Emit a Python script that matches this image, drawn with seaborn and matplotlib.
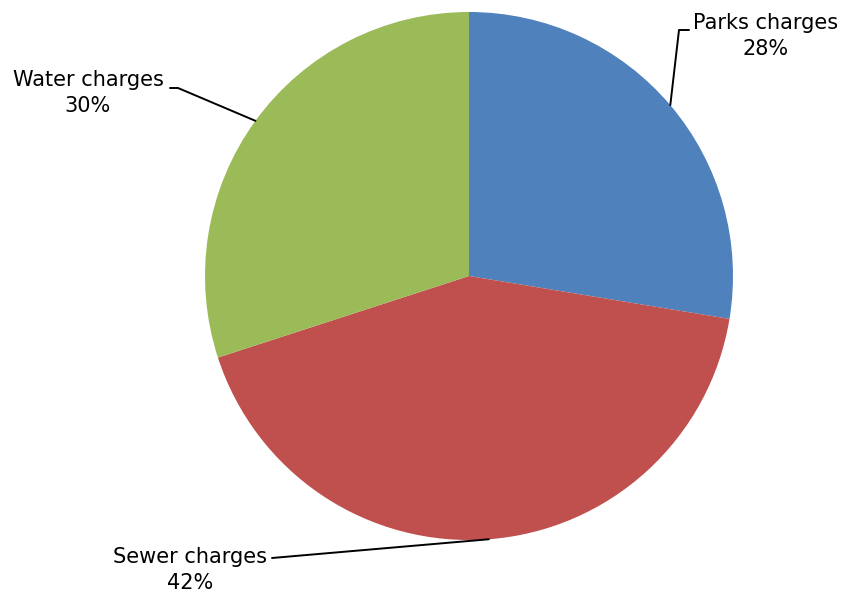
import numpy as np
import matplotlib
matplotlib.use('Agg')
from matplotlib import pyplot as plt
import seaborn as sns

labels = ['Parks charges', 'Sewer charges', 'Water charges']
shares = [27.6, 42.4, 30.0]
colors = ['#4F81BD', '#C0504D', '#9BBB59']

sns.set_theme(style='white')
plt.rcParams['font.family'] = ['DejaVu Sans']

W, H = 843, 596
fig = plt.figure(figsize=(W / 100, H / 100), dpi=100)
ax = fig.add_axes([0, 0, 1, 1])

cx, cy, r = 469, 320, 264
wedges, _ = ax.pie(shares, colors=colors, startangle=90, counterclock=False,
                   center=(cx, cy), radius=r, frame=True,
                   wedgeprops={'linewidth': 0})
ax.set_xlim(0, W)
ax.set_ylim(0, H)
ax.set_aspect('equal')
ax.axis('off')

# elbow point, end of leader, label centre (pixels, y up)
leaders = [
    ((679, 566), (689, 566), (766, 560)),
    ((272, 38), (272, 38), (190, 26)),
    ((178, 508), (170, 508), (88, 503)),
]

for w, name, pct, (elbow, end, txt) in zip(wedges, labels, shares, leaders):
    mid = np.deg2rad((w.theta1 + w.theta2) / 2)
    sx, sy = cx + r * np.cos(mid), cy + r * np.sin(mid)
    ax.plot([sx, elbow[0], end[0]], [sy, elbow[1], end[1]], color='black', lw=1.4)
    ax.text(txt[0], txt[1], f'{name}\n{round(pct)}%', ha='center', va='center',
            fontsize=15, linespacing=1.4, color='black')

fig.savefig('out.png', dpi=100)
